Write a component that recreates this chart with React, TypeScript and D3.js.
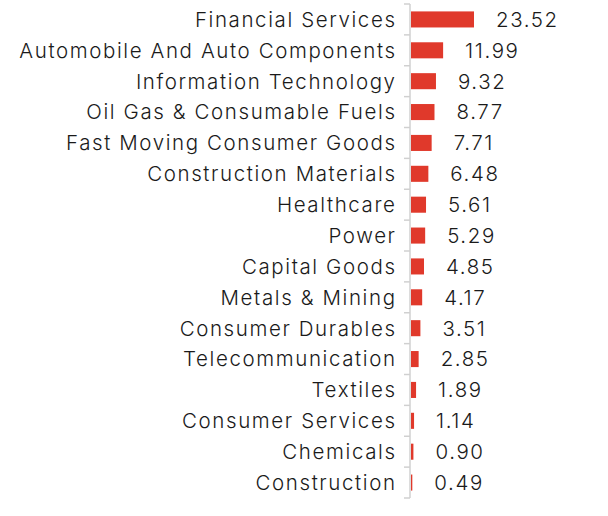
import React from "react";
import * as d3 from "d3";

const categories = [
  "Financial Services",
  "Automobile And Auto Components",
  "Information Technology",
  "Oil Gas & Consumable Fuels",
  "Fast Moving Consumer Goods",
  "Construction Materials",
  "Healthcare",
  "Power",
  "Capital Goods",
  "Metals & Mining",
  "Consumer Durables",
  "Telecommunication",
  "Textiles",
  "Consumer Services",
  "Chemicals",
  "Construction",
];
const values = [23.52, 11.99, 9.32, 8.77, 7.71, 6.48, 5.61, 5.29, 4.85, 4.17, 3.51, 2.85, 1.89, 1.14, 0.9, 0.49];
const valueLabels = ["23.52", "11.99", "9.32", "8.77", "7.71", "6.48", "5.61", "5.29", "4.85", "4.17", "3.51", "2.85", "1.89", "1.14", "0.90", "0.49"];

const W = 608;
const H = 516;
const axisX = 410;
const top = 4;
const bottom = 498;

export default function App() {
  const y = d3.scaleBand<string>().domain(categories).range([top, bottom]).paddingInner(0.48).paddingOuter(0.24);
  const x = d3.scaleLinear().domain([0, 23.52]).range([axisX + 1, axisX + 64]);
  const step = (bottom - top) / categories.length;
  const font = "Inter, sans-serif";
  const ls = 1.6;
  return (
    <svg width={W} height={H} style={{ position: "absolute", left: 0, top: 0 }}>
      <rect width={W} height={H} fill="#fff" />
      <line x1={axisX} x2={axisX} y1={top} y2={bottom} stroke="#d0d0d0" strokeWidth={1.5} />
      {d3.range(categories.length + 1).map((i) => (
        <line key={"t" + i} x1={axisX - 6} x2={axisX} y1={top + i * step} y2={top + i * step} stroke="#d0d0d0" strokeWidth={1.5} />
      ))}
      {categories.map((c, i) => {
        const by = y(c)!;
        const cy = by + y.bandwidth() / 2;
        return (
          <g key={c}>
            <rect x={x(0)} y={by} width={x(values[i]) - x(0)} height={y.bandwidth()} fill="#e0392b" />
            <text x={395 + ls} y={cy} dy="0.36em" textAnchor="end" fontFamily={font} fontWeight={300} fontSize={20.5} letterSpacing={ls} fill="#1a1a1a">
              {c}
            </text>
            <text x={x(values[i]) + 22} y={cy} dy="0.36em" textAnchor="start" fontFamily={font} fontWeight={300} fontSize={20.5} letterSpacing={ls} fill="#1a1a1a">
              {valueLabels[i]}
            </text>
          </g>
        );
      })}
    </svg>
  );
}
